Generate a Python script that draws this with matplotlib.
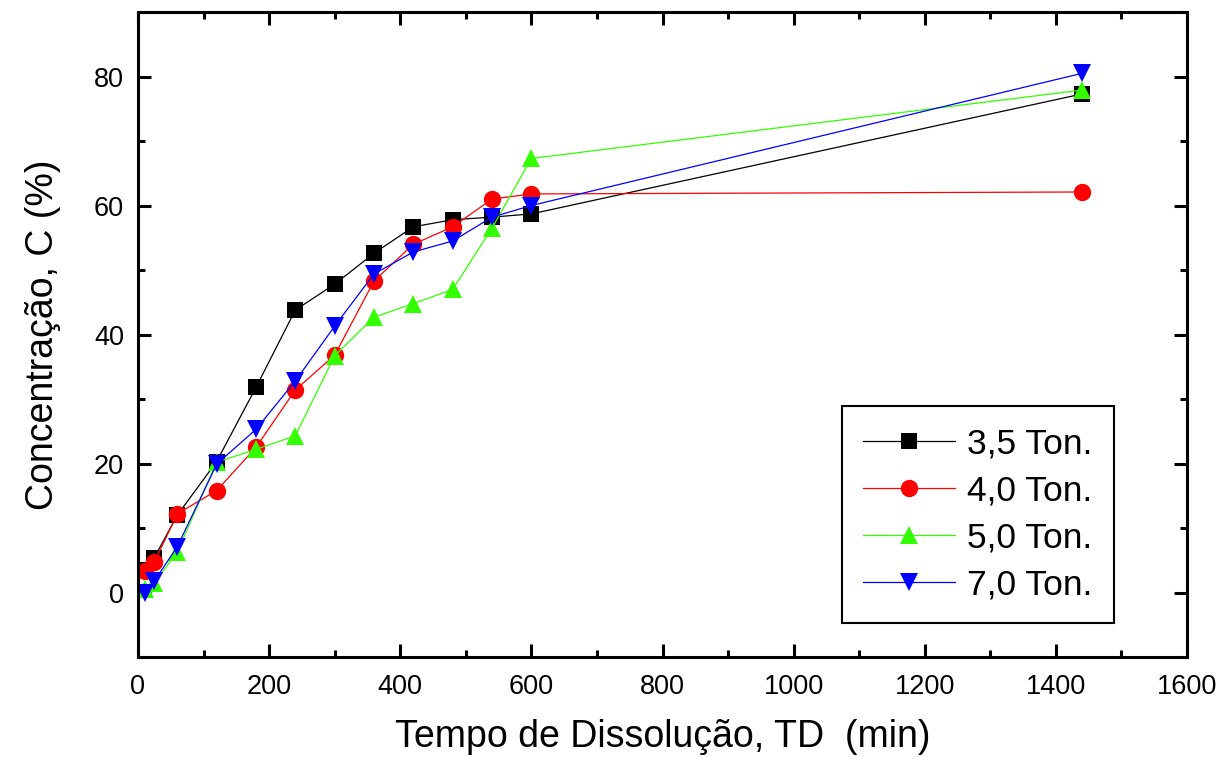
import numpy as np
import matplotlib
matplotlib.use('Agg')
import matplotlib.pyplot as plt
from matplotlib.ticker import MultipleLocator

plt.rcParams['font.family'] = ['Liberation Sans', 'DejaVu Sans']

# dissolution times (min)
tempo = [10, 25, 60, 120, 180, 240, 300, 360, 420, 480, 540, 600, 1440]

# concentration (%) per pressure
c_35 = [3.5, 5.4, 12.0, 20.3, 31.8, 43.8, 47.8, 52.6, 56.7, 57.8, 58.2, 58.7, 77.3]
c_40 = [3.4, 4.7, 12.2, 15.8, 22.5, 31.4, 36.8, 48.3, 54.0, 56.7, 61.0, 61.8, 62.1]
c_50 = [0.5, 1.5, 6.3, 20.2, 22.2, 24.3, 36.7, 42.7, 44.8, 47.0, 56.5, 67.3, 77.9]
c_70 = [0.0, 1.8, 7.1, 19.9, 25.3, 32.8, 41.3, 49.4, 52.8, 54.5, 58.2, 60.0, 80.5]

labels = ['3,5 Ton.', '4,0 Ton.', '5,0 Ton.', '7,0 Ton.']
series = [c_35, c_40, c_50, c_70]
colors = ['black', '#ff0000', '#33ff00', '#0000ff']
markers = ['s', 'o', '^', 'v']
msizes = [11.5, 12.5, 13, 13]

fig = plt.figure(figsize=(12.22, 7.57), dpi=100)
ax = fig.add_axes([0.1129, 0.1321, 0.8585, 0.852])

for y, lab, c, m, ms in zip(series, labels, colors, markers, msizes):
    ax.plot(tempo, y, color=c, marker=m, markersize=ms, linewidth=0.9,
            markeredgewidth=0, label=lab)

ax.set_xlim(0, 1600)
ax.set_ylim(-10, 90)
ax.xaxis.set_major_locator(MultipleLocator(200))
ax.xaxis.set_minor_locator(MultipleLocator(100))
ax.yaxis.set_major_locator(MultipleLocator(20))
ax.yaxis.set_minor_locator(MultipleLocator(10))

for s in ax.spines.values():
    s.set_linewidth(2.2)
ax.tick_params(which='both', direction='in', top=True, right=True, width=2.2)
ax.tick_params(which='major', length=9.5, labelsize=19.5)
ax.tick_params(axis='x', which='major', pad=12)
ax.tick_params(axis='y', which='major', pad=10)
ax.tick_params(which='minor', length=5)

ax.set_xlabel('Tempo de Dissolução, TD  (min)', fontsize=27, labelpad=14)
ax.set_ylabel('Concentração, C (%)', fontsize=27, labelpad=24)

leg = ax.legend(loc='lower right', bbox_to_anchor=(0.9304, 0.0527), fontsize=25.5,
                handlelength=2.6, handletextpad=0.34, labelspacing=0.4,
                borderpad=0.6, borderaxespad=0, fancybox=False, framealpha=1,
                edgecolor='black')
leg.get_frame().set_linewidth(1.5)

fig.savefig('out.png', dpi=100)
